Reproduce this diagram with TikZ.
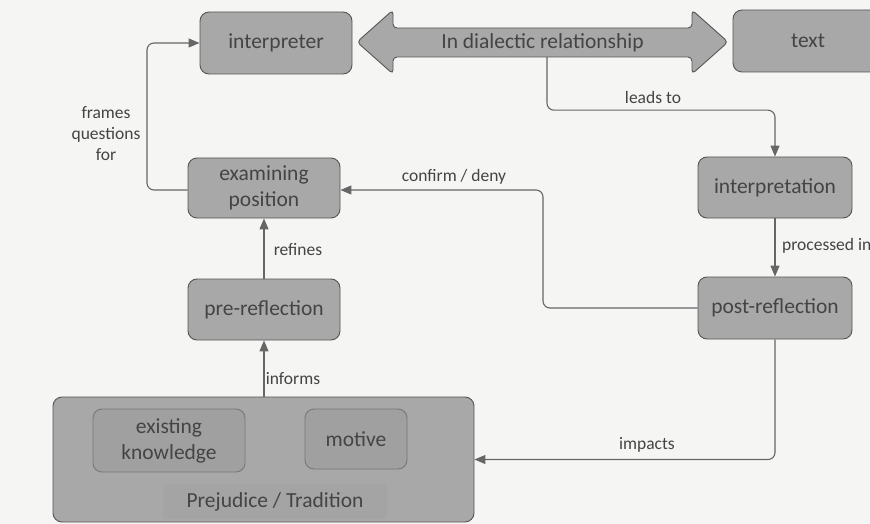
\documentclass[tikz,border=0pt]{standalone}
\usepackage{fontspec}
\setmainfont{Carlito}
\usetikzlibrary{arrows.meta}
\definecolor{bg}{HTML}{F5F5F3}
\definecolor{boxfill}{HTML}{A8A8A8}
\definecolor{innerfill}{HTML}{A0A0A0}
\definecolor{bandfill}{HTML}{A4A4A4}
\definecolor{edge}{HTML}{555555}
\definecolor{ink}{HTML}{444444}
\definecolor{linec}{HTML}{666666}
\tikzset{
  boxnode/.style={draw=edge, line width=0.9pt, fill=boxfill, rounded corners=9pt,
    text=ink, font=\fontsize{21.5}{26}\selectfont, align=center, inner sep=0pt},
  innerbox/.style={boxnode, fill=innerfill, draw=edge!80},
  conn/.style={draw=linec, line width=1.1pt, rounded corners=7pt,
    -{Triangle[length=11pt,width=9pt]}},
  lbl/.style={text=ink, font=\fontsize{17.5}{21}\selectfont, inner sep=0pt}
}
\begin{document}
\begin{tikzpicture}[x=1pt,y=-1pt]
\clip (0,0) rectangle (870,524);
\fill[bg] (0,0) rectangle (870,524);
\useasboundingbox (0,0) rectangle (870,524);

% double arrow
\draw[edge, line width=0.9pt, fill=boxfill, rounded corners=4pt]
  (357,42) -- (393,10) -- (393,28) -- (692,28) -- (692,10) -- (728,42)
  -- (692,74) -- (692,57) -- (393,57) -- (393,74) -- cycle;
\node[text=ink, font=\fontsize{21.5}{26}\selectfont, minimum width=299pt, minimum height=29pt, inner sep=0pt]
  (dial) at (542.5,42.5) {In dialectic relationship};

% boxes
\node[boxnode, minimum width=152pt, minimum height=62pt] (interp) at (276,43) {interpreter};
\node[boxnode, minimum width=150pt, minimum height=62pt] (textb) at (808,41) {text};
\node[boxnode, minimum width=154pt, minimum height=61pt] (interpn) at (775,187.5) {interpretation};
\node[boxnode, minimum width=154pt, minimum height=62pt] (post) at (775,308) {post-reflection};
\node[boxnode, minimum width=152pt, minimum height=60pt] (exam) at (264,188) {examining\\position};
\node[boxnode, minimum width=152pt, minimum height=61pt] (pre) at (264,309.5) {pre-reflection};

% prejudice container
\node[boxnode, minimum width=421pt, minimum height=125pt] (prej) at (263.5,459.5) {};
\node[innerbox, minimum width=152pt, minimum height=63pt] (exist) at (169,440.5) {existing\\knowledge};
\node[innerbox, minimum width=102pt, minimum height=60pt] (motive) at (356,439) {motive};
\node[fill=bandfill, rounded corners=3pt, minimum width=224pt, minimum height=35pt, inner sep=0pt,
  text=ink, font=\fontsize{21.5}{26}\selectfont] (prejlbl) at (275,501.5) {Prejudice / Tradition};

% connectors
\draw[conn] ([xshift=4.5pt]dial.south) -- ++(0,53) -| (interpn.north);
\node[lbl] (lleads) at (653,97) {leads to};

\draw[conn] (interpn.south) -- (post.north);
\node[lbl, anchor=west] (lproc) at (782,246) {processed in};

\draw[conn] (post.west) -- (543,308) |- ([yshift=-2pt]exam.east);
\node[lbl] (lconf) at (454,177) {confirm / deny};

\draw[conn] ([yshift=-2pt]exam.west) -- (147,190) |- (interp.west);
\node[lbl, align=center, font=\fontsize{17.5}{21}\selectfont] (lframes) at (106,134) {frames\\questions\\for};

\draw[conn] (pre.north) -- (exam.south);
\node[lbl] (lref) at (298,250) {refines};

\draw[conn] (pre.south |- prej.north) -- (pre.south);
\node[lbl] (linf) at (293,379) {informs};

\draw[conn] (post.south) |- (prej.east);
\node[lbl] (limp) at (647,445) {impacts};
\end{tikzpicture}
\end{document}
